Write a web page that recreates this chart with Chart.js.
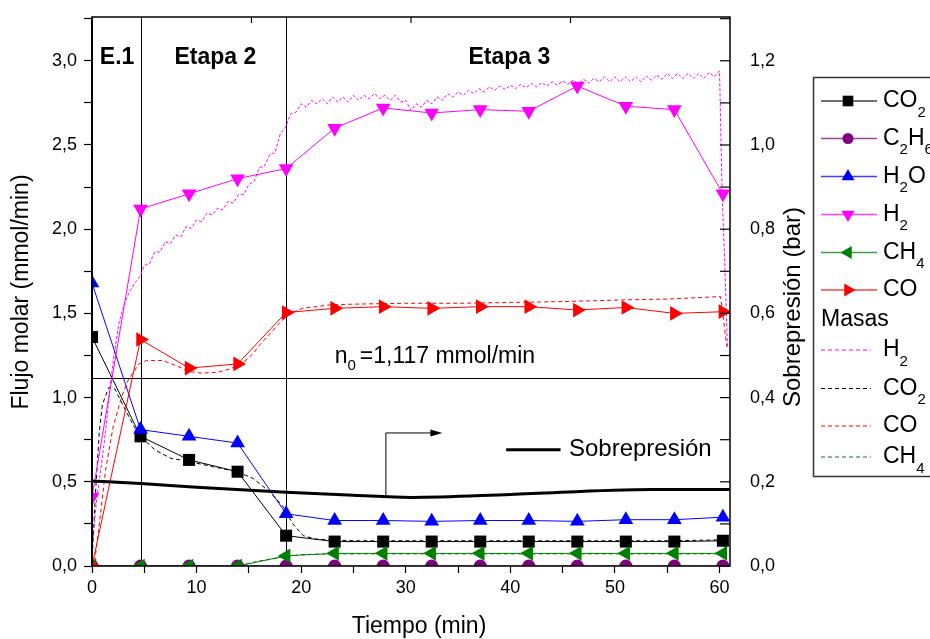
<!DOCTYPE html>
<html lang="es">
<head>
  <meta charset="UTF-8" />
  <title>Flujo molar y sobrepresión</title>
  <script src="https://cdn.jsdelivr.net/npm/chart.js"></script>
  <style>
    html, body { margin: 0; padding: 0; background: #fff; }
  </style>
</head>
<body>
  <canvas id="chart" width="930" height="639"></canvas>

  <script>
    // ---- data ----
    const times = [0, 4.64, 9.28, 13.92, 18.56, 23.2, 27.84, 32.48, 37.12, 41.76, 46.4, 51.04, 55.68, 60.32];
    const co2  = [1.36, 0.77, 0.63, 0.56, 0.18, 0.145, 0.145, 0.145, 0.145, 0.145, 0.145, 0.145, 0.145, 0.15];
    const c2h6 = [0, 0, 0, 0, 0, 0, 0, 0, 0, 0, 0, 0, 0, 0];
    const h2o  = [1.68, 0.81, 0.77, 0.73, 0.31, 0.27, 0.27, 0.265, 0.27, 0.27, 0.265, 0.275, 0.275, 0.29];
    const h2   = [0.41, 2.12, 2.21, 2.30, 2.36, 2.60, 2.72, 2.69, 2.71, 2.70, 2.85, 2.73, 2.71, 2.21];
    const ch4  = [0, 0, 0, 0, 0.06, 0.075, 0.075, 0.075, 0.075, 0.075, 0.075, 0.075, 0.075, 0.075];
    const co   = [0, 1.345, 1.175, 1.20, 1.505, 1.53, 1.54, 1.53, 1.54, 1.54, 1.52, 1.535, 1.50, 1.51];

    // mass-spectrometer traces (Masas)
    const mH2T = [0, 0.4, 0.9, 1.3, 1.7, 2.1, 2.6, 3.1, 3.6, 4.1, 4.6,
      5, 5.5, 6, 6.5, 7, 7.5, 8, 8.5, 9, 9.5, 10, 10.5, 11, 11.5, 12, 12.5, 13, 13.5, 14, 14.5,
      15, 15.5, 16, 16.5, 17, 17.5, 18, 18.5, 19, 19.5, 20, 20.5, 21, 21.5, 22, 22.5, 23, 23.5, 24, 24.5,
      25, 25.5, 26, 26.5, 27, 27.5, 28, 28.5, 29, 29.5, 30, 30.5, 31, 31.5, 32, 32.5, 33, 33.5, 34, 34.5,
      35, 35.5, 36, 36.5, 37, 37.5, 38, 38.5, 39, 39.5, 40, 40.5, 41, 41.5, 42, 42.5, 43, 43.5, 44, 44.5,
      45, 45.5, 46, 46.5, 47, 47.5, 48, 48.5, 49, 49.5, 50, 50.5, 51, 51.5, 52, 52.5, 53, 53.5, 54, 54.5,
      55, 55.5, 56, 56.5, 57, 57.5, 58, 58.5, 59, 59.5, 60, 60.25, 60.5, 60.75];
    const mH2 = [0.08, 0.37, 0.6, 0.8, 1.05, 1.25, 1.45, 1.56, 1.63, 1.68, 1.72,
      1.785, 1.795, 1.865, 1.865, 1.925, 1.915, 1.965, 1.955, 2.015, 2.005,
      2.055, 2.045, 2.095, 2.085, 2.125, 2.115, 2.165, 2.155, 2.205, 2.205,
      2.265, 2.285, 2.365, 2.375, 2.445, 2.455, 2.565, 2.605, 2.685, 2.695,
      2.745, 2.725, 2.765, 2.745, 2.775, 2.745, 2.785, 2.755, 2.785, 2.755,
      2.795, 2.765, 2.795, 2.775, 2.805, 2.775, 2.795, 2.765, 2.795, 2.755,
      2.765, 2.705, 2.745, 2.725, 2.765, 2.745, 2.785, 2.765, 2.805, 2.785,
      2.815, 2.795, 2.825, 2.805, 2.835, 2.815, 2.845, 2.825, 2.85, 2.83,
      2.855, 2.835, 2.86, 2.84, 2.865, 2.845, 2.87, 2.85, 2.875, 2.855,
      2.88, 2.86, 2.885, 2.865, 2.89, 2.87, 2.895, 2.875, 2.905, 2.875,
      2.905, 2.875, 2.905, 2.875, 2.905, 2.875, 2.91, 2.885, 2.915, 2.89,
      2.925, 2.895, 2.925, 2.895, 2.925, 2.895, 2.925, 2.895, 2.93, 2.905,
      2.94, 2.2, 1.8, 1.3];

    const mCO2T = [0, 0.3, 0.7, 1.0, 1.6, 2.2, 3.0, 4.0, 4.64, 6.0, 7.5, 9.3, 11.5, 13.9, 15.4, 17.0, 18.3, 19.2, 20.2, 21.4, 23, 25, 30, 35, 40, 45, 50, 55, 60.3, 60.6];
    const mCO2  = [0.02, 0.4, 0.8, 0.96, 1.06, 1.05, 0.95, 0.83, 0.77, 0.69, 0.64, 0.62, 0.59, 0.56, 0.52, 0.44, 0.35, 0.25, 0.18, 0.16, 0.155, 0.15, 0.15, 0.15, 0.15, 0.15, 0.15, 0.15, 0.155, 0.1];

    const mCOT = [0, 0.2, 0.7, 1.3, 2.0, 2.8, 3.5, 4.5, 5.2, 6.8, 8.4, 9.3, 10.5, 12.0, 13.2, 14.3, 15.4, 16.0, 17.9, 18.9, 20.1, 22.7, 25, 30, 35, 40, 45, 50.7, 55, 60.1, 60.4, 60.7];
    const mCO  = [0, 0, 0.25, 0.57, 0.82, 1.0, 1.11, 1.20, 1.22, 1.22, 1.18, 1.155, 1.145, 1.15, 1.17, 1.2, 1.26, 1.31, 1.44, 1.50, 1.53, 1.55, 1.555, 1.56, 1.56, 1.565, 1.57, 1.58, 1.585, 1.60, 1.45, 1.3];

    const mCH4T = [0, 13.9, 16, 18.6, 20, 23, 30, 40, 50, 60.3];
    const mCH4  = [0, 0, 0.03, 0.055, 0.068, 0.072, 0.072, 0.072, 0.072, 0.072];

    // overpressure (right axis, bar)
    const presT = [0, 4.64, 10, 18.56, 25, 30.5, 40, 53.5, 61];
    const pres  = [0.202, 0.196, 0.187, 0.175, 0.168, 0.163, 0.170, 0.182, 0.182];

    // axes
    const xTicks  = [0, 5, 10, 15, 20, 25, 30, 35, 40, 45, 50, 55, 60];
    const yTicks  = [0, 0.25, 0.5, 0.75, 1, 1.25, 1.5, 1.75, 2, 2.25, 2.5, 2.75, 3, 3.25];
    const y2Ticks = [0, 0.1, 0.2, 0.3, 0.4, 0.5, 0.6, 0.7, 0.8, 0.9, 1.0, 1.1, 1.2, 1.3];
    const topTicks = [15.25, 30.5, 45.75];
    const stageLines = [4.72, 18.58];
    const n0 = 1.117;

    const FONT = '"Liberation Sans", Arial, sans-serif';
    const f = (size, bold) => (bold ? 'bold ' : '') + size + 'px ' + FONT;
    const pts = (xs, ys) => xs.map((x, i) => ({ x: x, y: ys[i] }));
    const comma = v => v.toFixed(1).replace('.', ',');

    // series styling
    const series = [
      { name: [['CO', 0], ['2', 1]],                     data: co2,  color: '#000000', style: 'rect',     rot: 0,   r: 8.5 },
      { name: [['C', 0], ['2', 1], ['H', 0], ['6', 1]],  data: c2h6, color: '#800080', style: 'circle',   rot: 0,   r: 6.5 },
      { name: [['H', 0], ['2', 1], ['O', 0]],            data: h2o,  color: '#0000ff', style: 'triangle', rot: 0,   r: 8.5 },
      { name: [['H', 0], ['2', 1]],                      data: h2,   color: '#ff00ff', style: 'triangle', rot: 180, r: 8.5 },
      { name: [['CH', 0], ['4', 1]],                     data: ch4,  color: '#008000', style: 'triangle', rot: 270, r: 8.5 },
      { name: [['CO', 0]],                               data: co,   color: '#ff0000', style: 'triangle', rot: 90,  r: 8.5 }
    ];
    const masses = [
      { name: [['H', 0], ['2', 1]],   t: mH2T,  v: mH2,  color: '#ff00ff', dash: [3, 2] },
      { name: [['CO', 0], ['2', 1]],  t: mCO2T, v: mCO2, color: '#000000', dash: [4, 3] },
      { name: [['CO', 0]],            t: mCOT,  v: mCO,  color: '#ff0000', dash: [4, 3] },
      { name: [['CH', 0], ['4', 1]],  t: mCH4T, v: mCH4, color: '#008000', dash: [4, 3] }
    ];

    const datasets = [];
    masses.forEach((m, i) => datasets.push({
      data: pts(m.t, m.v), yAxisID: 'y', borderColor: m.color, borderWidth: 1,
      borderDash: m.dash, pointRadius: 0, fill: false, tension: 0, order: 20 + i
    }));
    series.forEach((s, i) => datasets.push({
      data: pts(times, s.data), yAxisID: 'y', borderColor: s.color, backgroundColor: s.color,
      borderWidth: 1, pointStyle: s.style, rotation: s.rot, pointRadius: s.r,
      pointBorderWidth: 0, fill: false, tension: 0, order: 10 - i
    }));
    datasets.push({
      data: pts(presT, pres), yAxisID: 'y2', borderColor: '#000', borderWidth: 3,
      pointRadius: 0, cubicInterpolationMode: 'monotone', fill: false, order: 0
    });

    // subscript-aware text
    function chem(ctx, parts, x, y, size) {
      let cx = x;
      ctx.textAlign = 'left';
      ctx.textBaseline = 'middle';
      parts.forEach(([txt, sub]) => {
        ctx.font = f(sub ? Math.round(size * 0.66) : size);
        ctx.fillText(txt, cx, sub ? y + size * 0.5 : y);
        cx += ctx.measureText(txt).width;
      });
    }

    const decorations = {
      id: 'decorations',
      beforeDatasetsDraw(chart) {
        const { ctx, chartArea: a, scales } = chart;
        ctx.save();
        ctx.strokeStyle = '#000';
        ctx.lineWidth = 1;
        stageLines.forEach(t => {
          const x = Math.round(scales.x.getPixelForValue(t)) + 0.5;
          ctx.beginPath(); ctx.moveTo(x, a.top); ctx.lineTo(x, a.bottom); ctx.stroke();
        });
        const yn = Math.round(scales.y.getPixelForValue(n0)) + 0.5;
        ctx.beginPath(); ctx.moveTo(a.left, yn); ctx.lineTo(a.right, yn); ctx.stroke();
        ctx.restore();
      },
      afterDraw(chart) {
        const { ctx, chartArea: a, scales } = chart;
        const X = v => scales.x.getPixelForValue(v);
        const Y = v => scales.y.getPixelForValue(v);
        const Y2 = v => scales.y2.getPixelForValue(v);
        ctx.save();
        ctx.fillStyle = '#000';
        ctx.strokeStyle = '#000';

        // frame
        ctx.lineWidth = 1.5;
        ctx.strokeRect(a.left, a.top, a.right - a.left, a.bottom - a.top);
        ctx.lineWidth = 2;
        ctx.beginPath(); ctx.moveTo(a.left, a.top); ctx.lineTo(a.left, a.bottom); ctx.stroke();

        // right axis inside ticks, top axis inside ticks
        ctx.lineWidth = 1.2;
        y2Ticks.forEach(v => {
          const y = Y2(v);
          ctx.beginPath(); ctx.moveTo(a.right - 10, y); ctx.lineTo(a.right, y); ctx.stroke();
        });
        topTicks.forEach(t => {
          const x = X(t);
          ctx.beginPath(); ctx.moveTo(x, a.top); ctx.lineTo(x, a.top + 6); ctx.stroke();
        });

        // stage labels
        ctx.font = f(23, true);
        ctx.textAlign = 'center';
        ctx.textBaseline = 'middle';
        ctx.fillText('E.1', X(2.4), Y(3.02));
        ctx.fillText('Etapa 2', X(11.8), Y(3.02));
        ctx.fillText('Etapa 3', X(39.9), Y(3.02));

        // n0 label
        ctx.fillStyle = '#000';
        const ny = Y(1.245);
        let nx = X(23.2);
        ctx.textAlign = 'left';
        ctx.font = f(23);
        ctx.fillText('n', nx, ny);
        nx += ctx.measureText('n').width;
        ctx.font = f(15);
        ctx.fillText('0', nx, ny + 10);
        nx += ctx.measureText('0').width + 4;
        ctx.font = f(23);
        ctx.fillText('=1,117 mmol/min', nx, ny);

        // arrow pointing to the right axis
        const ax0 = X(28.1), ax1 = X(33.5);
        const ayB = Y2(0.166), ayT = Y(0.79);
        ctx.lineWidth = 1;
        ctx.beginPath();
        ctx.moveTo(ax0, ayB); ctx.lineTo(ax0, ayT); ctx.lineTo(ax1 - 8, ayT);
        ctx.stroke();
        ctx.beginPath();
        ctx.moveTo(ax1, ayT); ctx.lineTo(ax1 - 12, ayT - 3.5); ctx.lineTo(ax1 - 12, ayT + 3.5);
        ctx.closePath(); ctx.fill();

        // overpressure key
        const ky = Y(0.69);
        ctx.lineWidth = 3;
        ctx.beginPath(); ctx.moveTo(X(39.6), ky); ctx.lineTo(X(44.8), ky); ctx.stroke();
        ctx.font = f(24);
        ctx.textAlign = 'left';
        ctx.fillText('Sobrepresión', X(45.6), ky);

        // axis titles
        ctx.font = f(23);
        ctx.textAlign = 'center';
        ctx.fillText('Tiempo (min)', (a.left + a.right) / 2 + 8, 627);
        ctx.save();
        ctx.translate(22, 292);
        ctx.rotate(-Math.PI / 2);
        ctx.fillText('Flujo molar (mmol/min)', 0, 0);
        ctx.restore();
        ctx.save();
        ctx.translate(793, 307);
        ctx.rotate(-Math.PI / 2);
        ctx.font = f(24);
        ctx.fillText('Sobrepresión (bar)', 0, 0);
        ctx.restore();

        // legend box
        ctx.lineWidth = 1.5;
        ctx.strokeStyle = '#333';
        ctx.strokeRect(813.5, 77.5, 140, 399);
        const rows = [101, 138.5, 176.5, 214.5, 252.5, 290];
        series.forEach((s, i) => {
          const y = rows[i];
          ctx.strokeStyle = s.color;
          ctx.globalAlpha = 0.75;
          ctx.lineWidth = 1.5;
          ctx.setLineDash([]);
          ctx.beginPath(); ctx.moveTo(821, y); ctx.lineTo(877, y); ctx.stroke();
          ctx.globalAlpha = 1;
          ctx.fillStyle = s.color;
          Chart.helpers.drawPoint(ctx, { pointStyle: s.style, rotation: s.rot, radius: s.style === 'circle' ? 5.5 : 7.5, borderWidth: 0 }, 848, y);
          ctx.fillStyle = '#000';
          chem(ctx, s.name, 883, y, 23);
        });
        ctx.font = f(23);
        ctx.textAlign = 'left';
        ctx.textBaseline = 'middle';
        ctx.fillText('Masas', 821, 320);
        const mrows = [350, 388.5, 426, 457];
        masses.forEach((m, i) => {
          const y = mrows[i];
          ctx.strokeStyle = m.color;
          ctx.lineWidth = 1;
          ctx.setLineDash([4, 3]);
          ctx.beginPath(); ctx.moveTo(821, y); ctx.lineTo(871, y); ctx.stroke();
          ctx.setLineDash([]);
          ctx.fillStyle = '#000';
          chem(ctx, m.name, 883, y, 23);
        });
        ctx.restore();
      }
    };

    // vertical scales: no extra label padding, so the plot top sits at layout.padding.top
    const fixVertical = w => s => { s.width = w; s.paddingTop = 0; s.paddingBottom = 0; };

    new Chart(document.getElementById('chart'), {
      type: 'line',
      data: { datasets: datasets },
      options: {
        responsive: false,
        animation: false,
        layout: { padding: { top: 17, left: 0, right: 0, bottom: 0 } },
        plugins: { legend: { display: false }, tooltip: { enabled: false } },
        scales: {
          x: {
            type: 'linear', min: 0, max: 61,
            afterBuildTicks: s => { s.ticks = xTicks.map(v => ({ value: v })); },
            afterFit: s => { s.height = 73; },
            ticks: {
              autoSkip: false, maxRotation: 0, padding: 4, color: '#000',
              font: { family: FONT, size: 18 },
              callback: v => (v % 10 === 0 ? String(v) : '')
            },
            grid: { drawOnChartArea: false, drawTicks: true, tickLength: 7, tickColor: '#000', tickWidth: 1.2 },
            border: { display: false }
          },
          y: {
            position: 'left', min: 0, max: 3.26,
            afterBuildTicks: s => { s.ticks = yTicks.map(v => ({ value: v })); },
            afterFit: fixVertical(92),
            ticks: {
              autoSkip: false, padding: 7, color: '#000',
              font: { family: FONT, size: 18 },
              callback: v => (Math.abs(v * 2 - Math.round(v * 2)) < 1e-6 ? comma(v) : '')
            },
            grid: { drawOnChartArea: false, drawTicks: true, tickLength: 8, tickColor: '#000', tickWidth: 1.2 },
            border: { display: false }
          },
          y2: {
            position: 'right', min: 0, max: 1.304,
            afterBuildTicks: s => { s.ticks = y2Ticks.map(v => ({ value: v })); },
            afterFit: fixVertical(200),
            ticks: {
              autoSkip: false, padding: 12, color: '#000',
              font: { family: FONT, size: 18 },
              callback: v => (Math.round(v * 10) % 2 === 0 ? comma(v) : '')
            },
            grid: { display: false },
            border: { display: false }
          }
        }
      },
      plugins: [decorations]
    });
  </script>
</body>
</html>
